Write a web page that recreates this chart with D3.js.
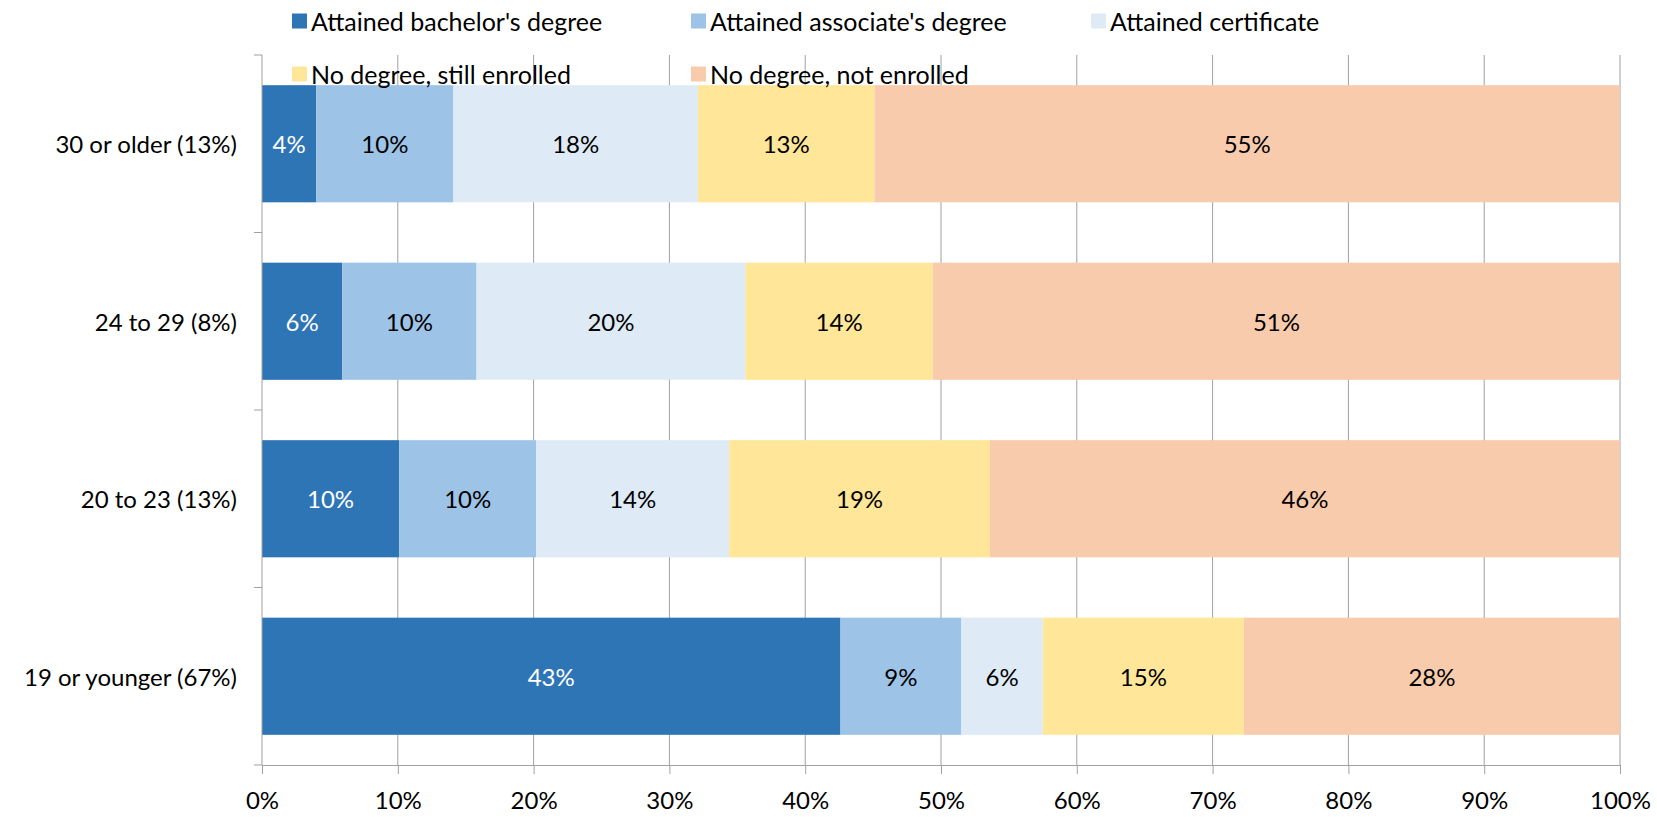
<!DOCTYPE html>
<html>
<head>
<meta charset="utf-8">
<script src="https://cdn.jsdelivr.net/npm/d3@7"></script>
<style>
  html, body { margin: 0; padding: 0; background: #fff; }
  svg { display: block; font-family: Lato, "Open Sans", sans-serif; }
</style>
</head>
<body>
<svg id="chart" width="1657" height="817"></svg>
<script>
// Age groups at entry (share of students in parentheses), top to bottom
const categories = ["30 or older (13%)", "24 to 29 (8%)", "20 to 23 (13%)", "19 or younger (67%)"];

// Outcome series, in stacking order (percent of each age group)
const seriesNames = [
  "Attained bachelor's degree",
  "Attained associate's degree",
  "Attained certificate",
  "No degree, still enrolled",
  "No degree, not enrolled"
];
const bachelor    = [4.0, 5.9, 10.1, 42.6];
const associate   = [10.1, 9.9, 10.1, 8.9];
const certificate = [18.0, 19.8, 14.2, 6.0];
const stillEnrolled = [13.0, 13.8, 19.2, 14.8];
const notEnrolled = [54.9, 50.6, 46.4, 27.7];

const xTicks = [0, 10, 20, 30, 40, 50, 60, 70, 80, 90, 100];

const colors = ["#2E75B6", "#9DC3E6", "#DEEBF7", "#FFE699", "#F8CBAD"];
const labelColors = ["#ffffff", "#000000", "#000000", "#000000", "#000000"];

const seriesValues = [bachelor, associate, certificate, stillEnrolled, notEnrolled];
const rows = categories.map((c, i) => {
  const r = { category: c };
  seriesNames.forEach((s, k) => { r[s] = seriesValues[k][i]; });
  return r;
});

const svg = d3.select("#chart");
const margin = { left: 262, right: 37, top: 55, bottom: 52 };
const W = 1657, H = 817;

const x = d3.scaleLinear().domain([0, 100]).range([margin.left, W - margin.right]);
const y = d3.scaleBand().domain(categories).range([margin.top, H - margin.bottom])
  .paddingInner(0.34).paddingOuter(0.17);

const gridColor = "#a0a0a0";
const fontSize = 24;
const legendFontSize = 25;

// Vertical gridlines
svg.append("g")
  .selectAll("line")
  .data(xTicks.slice(1))
  .join("line")
  .attr("x1", d => x(d)).attr("x2", d => x(d))
  .attr("y1", margin.top).attr("y2", H - margin.bottom)
  .attr("stroke", gridColor).attr("stroke-width", 1);

// Stacked bars
const stack = d3.stack().keys(seriesNames);
const layers = stack(rows);

const layerG = svg.append("g")
  .selectAll("g")
  .data(layers)
  .join("g")
  .attr("fill", (d, i) => colors[i]);

layerG.selectAll("rect")
  .data(d => d)
  .join("rect")
  .attr("x", d => x(d[0]))
  .attr("width", d => x(d[1]) - x(d[0]))
  .attr("y", d => y(d.data.category))
  .attr("height", y.bandwidth());

// Value labels centred in each segment
const fmt = d => d3.format(".0f")(d) + "%";
svg.append("g")
  .selectAll("g")
  .data(layers)
  .join("g")
  .attr("fill", (d, i) => labelColors[i])
  .selectAll("text")
  .data(d => d)
  .join("text")
  .attr("x", d => (x(d[0]) + x(d[1])) / 2)
  .attr("y", d => y(d.data.category) + y.bandwidth() / 2)
  .attr("text-anchor", "middle")
  .attr("dominant-baseline", "central")
  .attr("font-size", fontSize)
  .text(d => fmt(d[1] - d[0]));

// Bottom axis
const xAxis = d3.axisBottom(x)
  .tickValues(xTicks)
  .tickFormat(d => d + "%")
  .tickSizeInner(9)
  .tickSizeOuter(0)
  .tickPadding(18);
const gx = svg.append("g")
  .attr("transform", `translate(0,${H - margin.bottom})`)
  .call(xAxis);
gx.select(".domain").attr("stroke", gridColor);
gx.selectAll(".tick line").attr("stroke", gridColor);
gx.selectAll(".tick text").attr("font-size", fontSize).attr("fill", "#000")
  .attr("font-family", "Lato, 'Open Sans', sans-serif");

// Left axis: line with tick marks between bands
const gy = svg.append("g");
gy.append("line")
  .attr("x1", margin.left).attr("x2", margin.left)
  .attr("y1", margin.top).attr("y2", H - margin.bottom)
  .attr("stroke", gridColor);
const bandEdges = [margin.top].concat(categories.map(c => y(c) + y.bandwidth() + y.step() * y.paddingInner() / 2));
bandEdges[bandEdges.length - 1] = H - margin.bottom;
gy.selectAll("line.tk")
  .data(bandEdges)
  .join("line")
  .attr("class", "tk")
  .attr("x1", margin.left - 8).attr("x2", margin.left)
  .attr("y1", d => d).attr("y2", d => d)
  .attr("stroke", gridColor);
gy.selectAll("text")
  .data(categories)
  .join("text")
  .attr("x", margin.left - 25)
  .attr("y", d => y(d) + y.bandwidth() / 2)
  .attr("text-anchor", "end")
  .attr("dominant-baseline", "central")
  .attr("font-size", fontSize)
  .attr("fill", "#000")
  .text(d => d);

// Legend: three columns, two rows
const legendCols = [292, 691, 1091];
const legendRows = [21, 74];
const legend = svg.append("g")
  .selectAll("g")
  .data(seriesNames)
  .join("g")
  .attr("transform", (d, i) => `translate(${legendCols[i % 3]},${legendRows[Math.floor(i / 3)]})`);
legend.append("rect")
  .attr("x", 0).attr("y", -7.5)
  .attr("width", 15).attr("height", 15)
  .attr("fill", (d, i) => colors[i]);
legend.append("text")
  .attr("x", 19)
  .attr("y", 0)
  .attr("dominant-baseline", "central")
  .attr("font-size", legendFontSize)
  .attr("fill", "#000")
  .text(d => d);
</script>
</body>
</html>
